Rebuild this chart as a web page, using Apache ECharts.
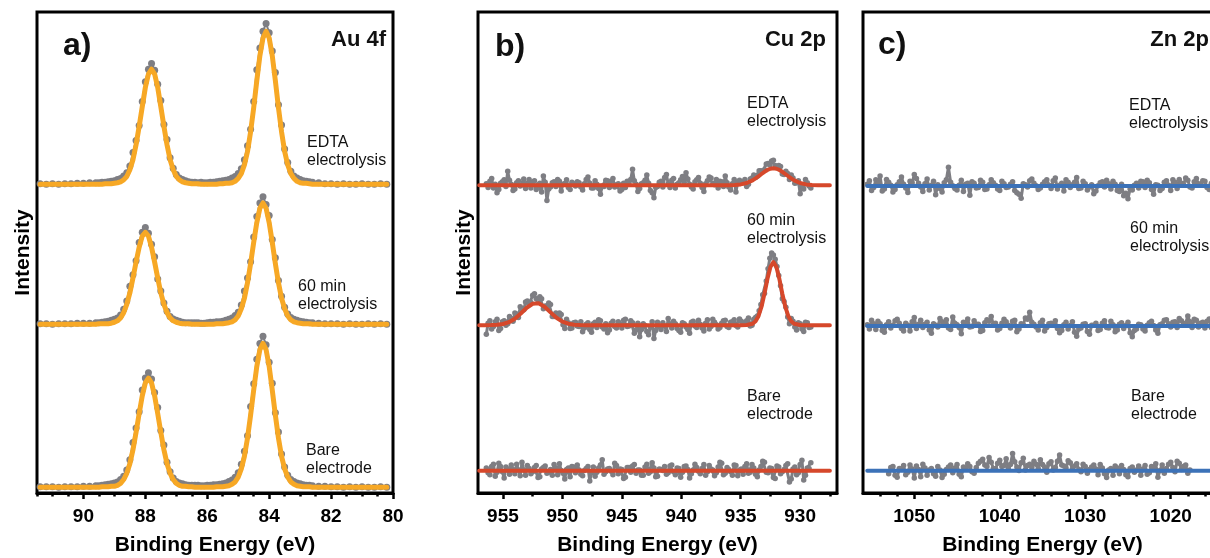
<!DOCTYPE html>
<html>
<head>
<meta charset="utf-8">
<script src="https://cdn.jsdelivr.net/npm/echarts@6/dist/echarts.min.js"></script>
<style>
  html, body { margin: 0; background: #fff; }
  #chart { width: 1210px; height: 558px; }
</style>
</head>
<body>
<div id="chart"></div>
<script>
// ---------- a) Au 4f ----------
const auX = [
  91.4, 91.2, 91.0, 90.8, 90.6, 90.4, 90.2, 90.0, 89.8, 89.6,
  89.5, 89.4, 89.3, 89.2, 89.1, 89.0, 88.9, 88.8, 88.7, 88.6,
  88.5, 88.4, 88.3, 88.2, 88.1, 88.0, 87.9, 87.8, 87.7, 87.6,
  87.5, 87.4, 87.3, 87.2, 87.1, 87.0, 86.9, 86.8, 86.7, 86.6,
  86.5, 86.4, 86.3, 86.2, 86.1, 86.0, 85.9, 85.8, 85.7, 85.6,
  85.5, 85.4, 85.3, 85.2, 85.1, 85.0, 84.9, 84.8, 84.7, 84.6,
  84.5, 84.4, 84.3, 84.2, 84.1, 84.0, 83.9, 83.8, 83.7, 83.6,
  83.5, 83.4, 83.3, 83.2, 83.1, 83.0, 82.9, 82.8, 82.7,
  82.6, 82.4, 82.2, 82.0, 81.8, 81.6, 81.4, 81.2, 81.0, 80.8, 80.6, 80.4, 80.2
];
const auEdta = [
  0.1, 0, 0.1, 0, 0.1, 0.1, 0.2, 0.2, 0.3, 0.3,
  0.3, 0.4, 0.4, 0.5, 0.6, 0.7, 1.0, 1.2, 1.7, 2.4,
  3.8, 6.6, 9.1, 12.2, 17.2, 21.3, 23.9, 25.1, 23.7, 20.8,
  17.4, 12.4, 9.3, 5.5, 3.3, 2.0, 1.3, 1.0, 0.7, 0.5,
  0.4, 0.4, 0.3, 0.4, 0.3, 0.3, 0.4, 0.4, 0.5, 0.6,
  0.7, 0.8, 1.0, 1.3, 1.6, 2.2, 3.2, 5.1, 8.0, 11.4,
  17.2, 23.8, 28.3, 31.8, 33.4, 31.5, 27.7, 23.2, 16.5, 12.3,
  7.3, 4.5, 2.7, 1.7, 1.3, 1.0, 0.7, 0.6, 0.5,
  0.4, 0.3, 0.1, 0.1, 0, 0.1, 0, 0, 0.1, 0, 0, 0.1, 0
];
const auEdtaFit = [
  0, 0, 0, 0, 0, 0, 0, 0, 0, 0,
  0, 0, 0.1, 0.1, 0.1, 0.2, 0.3, 0.5, 0.9, 1.6,
  3.0, 5.1, 8.2, 12.0, 16.1, 20.1, 22.9, 23.9, 22.9, 20.1,
  16.1, 12.0, 8.2, 5.1, 3.0, 1.6, 0.9, 0.5, 0.3, 0.2,
  0.1, 0.1, 0.1, 0, 0, 0, 0, 0, 0, 0.1,
  0.1, 0.2, 0.2, 0.3, 0.6, 1.2, 2.2, 4.0, 6.8, 10.9,
  15.9, 21.5, 26.7, 30.4, 31.8, 30.4, 26.7, 21.5, 15.9, 10.9,
  6.8, 4.0, 2.2, 1.2, 0.6, 0.3, 0.2, 0.2, 0.1,
  0, 0, 0, 0, 0, 0, 0, 0, 0, 0, 0, 0, 0
];
const au60 = [
  0.1, 0.1, 0, 0.1, 0.1, 0.1, 0.2, 0.2, 0.2, 0.3,
  0.3, 0.4, 0.5, 0.6, 0.8, 1.0, 1.3, 1.9, 3.1, 4.8,
  7.9, 10.3, 13.2, 17.0, 19.1, 20.1, 18.9, 16.6, 14.0, 9.4,
  6.9, 4.4, 2.7, 1.6, 1.1, 0.8, 0.6, 0.4, 0.3, 0.3,
  0.3, 0.3, 0.3, 0.2, 0.2, 0.3, 0.4, 0.4, 0.5, 0.5,
  0.6, 0.8, 1.0, 1.3, 1.8, 2.5, 4.0, 6.9, 9.6, 13.0,
  18.1, 22.4, 25.2, 26.5, 24.9, 22.6, 17.6, 13.8, 9.1, 5.8,
  3.5, 2.1, 1.4, 1.0, 0.8, 0.6, 0.5, 0.4, 0.3,
  0.3, 0.2, 0.1, 0.1, 0.1, 0, 0.1, 0, 0, 0.1, 0, 0.1, 0
];
const au60Fit = [
  0, 0, 0, 0, 0, 0, 0, 0, 0, 0,
  0.1, 0.1, 0.1, 0.1, 0.2, 0.4, 0.7, 1.3, 2.4, 4.1,
  6.5, 9.6, 12.9, 16.0, 18.3, 19.1, 18.3, 16.0, 12.9, 9.6,
  6.5, 4.1, 2.4, 1.3, 0.7, 0.4, 0.2, 0.1, 0.1, 0.1,
  0, 0, 0, 0, 0, 0, 0, 0, 0.1, 0.1,
  0.1, 0.2, 0.3, 0.5, 0.9, 1.7, 3.2, 5.4, 8.6, 12.6,
  17.0, 21.1, 24.1, 25.2, 24.1, 21.1, 17.0, 12.6, 8.6, 5.4,
  3.2, 1.7, 0.9, 0.5, 0.3, 0.2, 0.1, 0.1, 0.1,
  0, 0, 0, 0, 0, 0, 0, 0, 0, 0, 0, 0, 0
];
const auBare = [
  0.1, 0.1, 0.1, 0, 0.1, 0.1, 0.1, 0.2, 0.2, 0.3,
  0.3, 0.4, 0.5, 0.6, 0.7, 0.9, 1.1, 1.6, 2.3, 3.6,
  5.7, 9.3, 12.3, 15.7, 20.2, 22.7, 23.8, 22.5, 19.7, 16.6,
  11.8, 8.8, 5.2, 3.2, 1.9, 1.2, 0.9, 0.7, 0.5, 0.4,
  0.4, 0.4, 0.4, 0.3, 0.3, 0.4, 0.4, 0.5, 0.5, 0.6,
  0.7, 0.9, 1.2, 1.5, 2.1, 3.0, 4.8, 7.5, 10.7, 16.8,
  21.5, 26.6, 29.9, 31.4, 29.6, 26.0, 21.6, 15.5, 11.5, 6.9,
  4.2, 2.5, 1.6, 1.2, 0.9, 0.7, 0.5, 0.4, 0.4,
  0.3, 0.2, 0.2, 0.1, 0.1, 0, 0.1, 0, 0.1, 0, 0, 0.1, 0
];
const auBareFit = [
  0, 0, 0, 0, 0, 0, 0, 0, 0, 0,
  0, 0.1, 0.1, 0.1, 0.2, 0.2, 0.4, 0.8, 1.6, 2.9,
  4.9, 7.8, 11.4, 15.3, 19.0, 21.7, 22.7, 21.7, 19.0, 15.3,
  11.4, 7.8, 4.9, 2.9, 1.6, 0.8, 0.4, 0.2, 0.2, 0.1,
  0.1, 0, 0, 0, 0, 0, 0, 0, 0.1, 0.1,
  0.1, 0.2, 0.3, 0.6, 1.1, 2.1, 3.8, 6.4, 10.2, 15.0,
  20.2, 25.1, 28.6, 29.9, 28.6, 25.1, 20.2, 15.0, 10.2, 6.4,
  3.8, 2.1, 1.1, 0.6, 0.3, 0.2, 0.1, 0.1, 0.1,
  0, 0, 0, 0, 0, 0, 0, 0, 0, 0, 0, 0, 0
];
const auOffsets = [64.2, 35.1, 1.2]; // EDTA, 60 min, bare
const auTicks = [90, 88, 86, 84, 82, 80];
const auMinorTicks = [91.5, 91, 90.5, 89.5, 89, 88.5, 87.5, 87, 86.5, 85.5, 85, 84.5, 83.5, 83, 82.5, 81.5, 81, 80.5];

// ---------- b) Cu 2p ----------
const cuX = [
  956.4, 956.25, 956.1, 955.95, 955.8, 955.65, 955.5, 955.35, 955.2, 955.05,
  954.9, 954.75, 954.6, 954.45, 954.3, 954.15, 954.0, 953.85, 953.7, 953.55,
  953.4, 953.25, 953.1, 952.95, 952.8, 952.65, 952.5, 952.35, 952.2, 952.05,
  951.9, 951.75, 951.6, 951.45, 951.3, 951.15, 951.0, 950.85, 950.7, 950.55,
  950.4, 950.25, 950.1, 949.95, 949.8, 949.65, 949.5, 949.35, 949.2, 949.05,
  948.9, 948.75, 948.6, 948.45, 948.3, 948.15, 948.0, 947.85, 947.7, 947.55,
  947.4, 947.25, 947.1, 946.95, 946.8, 946.65, 946.5, 946.35, 946.2, 946.05,
  945.9, 945.75, 945.6, 945.45, 945.3, 945.15, 945.0, 944.85, 944.7, 944.55,
  944.4, 944.25, 944.1, 943.95, 943.8, 943.65, 943.5, 943.35, 943.2, 943.05,
  942.9, 942.75, 942.6, 942.45, 942.3, 942.15, 942.0, 941.85, 941.7, 941.55,
  941.4, 941.25, 941.1, 940.95, 940.8, 940.65, 940.5, 940.35, 940.2, 940.05,
  939.9, 939.75, 939.6, 939.45, 939.3, 939.15, 939.0, 938.85, 938.7, 938.55,
  938.4, 938.25, 938.1, 937.95, 937.8, 937.65, 937.5, 937.35, 937.2, 937.05,
  936.9, 936.75, 936.6, 936.45, 936.3, 936.15, 936.0, 935.85, 935.7, 935.55,
  935.4, 935.25, 935.1, 934.95, 934.8, 934.65, 934.5, 934.35, 934.2, 934.05,
  933.9, 933.75, 933.6, 933.45, 933.3, 933.15, 933.0, 932.85, 932.7, 932.55,
  932.4, 932.25, 932.1, 931.95, 931.8, 931.65, 931.5, 931.35, 931.2, 931.05,
  930.9, 930.75, 930.6, 930.45, 930.3, 930.15, 930.0, 929.85, 929.7, 929.55,
  929.4, 929.25, 929.1
];
const cuEdta = [
  0.3, -0.5, 0.8, 1.4, -0.6, 0.2, -1.6, -0.9, 0.4, 0.7,
  1.1, -0.3, 2.9, 1.0, 0.2, -1.1, -0.8, 0.5, 0.9, -0.2,
  0.1, 1.3, -0.7, 0.4, 1.2, -0.6, 0.6, 0.9, -0.9, 0.1,
  0.4, -1.4, 1.9, 0.6, -3.2, -0.8, -0.4, 0.5, 0.7, -0.3,
  1.2, 0.8, -1.2, 0.2, 0.3, 1.1, -0.5, -0.9, 0.6, 0.3,
  -0.2, 0.7, 0.5, -0.4, -1.0, 0.3, 1.2, 1.7, 0.4, -0.6,
  -0.6, 0.9, 0.2, -0.7, -1.9, -0.2, -0.3, 1.0, 0.9, -0.5,
  0.8, 1.4, -0.4, 0.1, 0.3, -1.2, -0.9, 0.4, -0.5, 0.8,
  0.6, 1.2, 3.3, 0.9, 0.2, -1.3, -0.7, 0.3, 0.5, 1.0,
  2.1, 0.4, -1.1, -1.6, -2.6, -0.5, -0.3, 0.6, 0.8, -0.4,
  1.6, 2.2, 0.3, -0.5, 1.0, 1.4, -0.6, 0.2, 0.5, 1.1,
  1.8, 0.6, 2.6, 1.3, 0.2, -0.4, -0.8, 0.7, 1.1, 1.6,
  0.4, -0.5, -1.3, 0.3, 0.9, 1.7, 1.5, 0.2, 0.1, 1.2,
  -0.6, 0.8, 0.7, -0.3, 1.9, 0.5, -0.4, -1.0, 0.3, 1.2,
  -1.4, 0.6, 1.0, 0.6, 0.5, 1.2, -0.3, 0.2, 1.3, 1.5,
  2.1, 1.6, 1.9, 3.0, 3.0, 2.9, 3.2, 4.4, 4.5, 4.2,
  5.0, 5.2, 4.1, 3.7, 4.1, 3.9, 2.3, 2.2, 2.9, 2.4,
  1.2, 2.1, 1.5, 0.4, 0.5, 0.9, -1.8, -0.1, -0.8, 1.2,
  0.5, -0.2, -0.6
];
const cu60 = [
  -1.9, 0.4, 0.9, -0.8, -0.3, 0.7, 1.2, -1.1, -0.7, 0.7,
  0.9, 0.0, 0.3, 1.8, 1.4, 0.8, 2.5, 2.3, 1.6, 3.8,
  3.4, 3.2, 4.8, 5.0, 4.3, 4.7, 6.2, 6.5, 5.5, 5.2,
  5.9, 5.5, 3.4, 4.0, 3.8, 4.6, 4.3, 1.8, 1.8, 2.5,
  2.1, 2.5, 2.2, 0.1, -0.7, 1.2, 0.5, -0.7, -0.6, 0.5,
  0.6, -0.2, -0.3, 0.7, -1.4, -0.6, 0.2, 0.5, -0.9, -1.5,
  0.3, 0.6, -0.5, 1.1, 0.9, -0.4, -0.8, 0.3, -1.6, -1.0,
  0.4, 0.8, -0.3, -0.6, 0.7, 0.2, -0.6, 1.0, 1.2, -0.3,
  -0.2, 0.9, 0.5, -1.7, -1.0, 0.4, -2.4, -0.9, 0.3, -0.1,
  -1.3, -2.0, -0.4, 0.7, -2.8, -1.1, 0.6, -0.4, -0.9, 0.5,
  -0.2, -1.3, 1.4, 0.2, -0.6, 0.8, 0.3, -0.7, -1.1, -1.5,
  0.5, 0.3, -0.4, -0.9, -1.7, 0.6, 0.8, -0.2, -0.5, 1.0,
  0.2, -0.6, -1.2, 0.4, 1.1, -0.8, -0.3, 1.2, 0.6, 0.1,
  -0.8, -0.5, 0.4, 0.9, 1.0, -0.3, -0.5, 0.6, 0.7, 1.1,
  -0.1, -0.4, 1.3, 0.8, 0.2, 0.5, 0.9, 1.5, -0.2, 0.0,
  1.2, 1.6, 1.9, 3.0, 4.3, 6.3, 6.6, 9.2, 11.7, 13.9,
  15.0, 14.6, 13.7, 12.2, 10.3, 8.2, 5.5, 4.9, 3.7, 1.7,
  0.3, 1.4, 0.8, -0.4, -1.0, 0.5, 0.3, -0.8, -1.3, 0.6,
  0.5, -0.5, -0.4
];
const cuBare = [
  0.6, -0.4, -0.8, 0.9, 1.4, -1.1, -0.3, 1.6, 0.9, -0.2,
  -1.5, 0.8, 0.4, -0.7, 1.2, 0.3, -0.6, 1.4, 0.2, -1.0,
  1.8, 0.2, -0.9, 1.1, 0.5, -0.6, -0.2, 0.7, 1.1, -1.4,
  -1.2, 0.4, 0.7, 1.0, -0.5, -0.3, 0.3, -0.9, 1.3, 0.6,
  -0.8, 1.5, 0.1, -0.5, -1.7, 0.3, 0.6, -1.2, 0.9, 0.8,
  -0.4, 1.2, 0.2, -0.7, -1.0, 0.1, 0.5, 0.9, -2.1, -0.4,
  0.8, -1.1, -0.3, 0.6, 1.2, 2.3, -0.7, -0.2, 0.4, 0.5,
  -0.1, -0.8, 1.6, 1.1, -0.6, 0.4, 0.3, -1.6, -1.3, 0.7,
  0.7, -0.3, 1.0, 1.3, -0.5, 0.2, 0.2, -0.9, -0.9, 0.8,
  1.4, -0.5, -0.2, 1.7, 0.6, -1.2, -1.1, 0.4, 0.3, 0.1,
  0.9, -0.7, -0.4, 1.0, 1.2, -0.2, -0.8, 0.6, 0.5, -1.3,
  -0.3, 0.9, 1.0, 0.3, -1.5, -0.6, 0.2, 1.4, 0.7, -0.1,
  -0.6, 0.5, 1.3, -0.9, -0.2, 1.1, 0.4, 0.2, -1.0, -0.4,
  0.8, 1.8, 1.6, -0.8, -0.5, 0.7, 0.3, -0.2, -0.9, 1.2,
  1.1, -1.0, 0.2, 0.4, -0.7, 0.9, 1.5, -0.5, -0.3, 1.3,
  0.6, -0.7, -1.2, 0.2, 0.9, 2.0, 1.8, -0.3, -0.4, 0.6,
  0.5, -1.4, -1.6, 1.0, 0.8, -0.6, -0.2, 0.3, 1.1, 1.5,
  -2.3, -1.7, 0.4, 0.8, -0.8, -0.4, 1.3, 2.2, -1.9, -0.9,
  0.6, 0.5, 1.7
];
const cuFitX = [
  957, 956.5, 956, 955.5, 955, 954.5, 954, 953.5, 953, 952.5,
  952, 951.5, 951, 950.5, 950, 949.5, 949, 948.5, 948, 947.5,
  947, 946.5, 946, 945.5, 945, 944.5, 944, 943.5, 943, 942.5,
  942, 941.5, 941, 940.5, 940, 939.5, 939, 938.5, 938, 937.5,
  937, 936.5, 936, 935.5, 935, 934.5, 934, 933.75, 933.5, 933.25,
  933, 932.75, 932.5, 932.25, 932, 931.75, 931.5, 931.25, 931, 930.75,
  930.5, 930, 929.5, 929, 928.5, 928, 927.5
];
const cuEdtaFit = [
  0, 0, 0, 0, 0, 0, 0, 0, 0, 0,
  0, 0, 0, 0, 0, 0, 0, 0, 0, 0,
  0, 0, 0, 0, 0, 0, 0, 0, 0, 0,
  0, 0, 0, 0, 0, 0, 0, 0, 0, 0,
  0, 0, 0, 0.05, 0.16, 0.44, 1.0, 1.4, 1.85, 2.32,
  2.78, 3.16, 3.41, 3.5, 3.41, 3.16, 2.78, 2.32, 1.85, 1.4,
  1.0, 0.44, 0.16, 0.05, 0, 0, 0
];
const cu60Fit = [
  0, 0, 0.02, 0.07, 0.23, 0.62, 1.34, 2.42, 3.61, 4.44,
  4.53, 3.82, 2.66, 1.53, 0.73, 0.29, 0.09, 0.03, 0, 0,
  0, 0, 0, 0, 0, 0, 0, 0, 0, 0,
  0, 0, 0, 0, 0, 0, 0, 0, 0, 0,
  0, 0, 0, 0, 0, 0.03, 0.30, 0.82, 1.91, 3.82,
  6.55, 9.63, 12.1, 13.1, 12.1, 9.63, 6.55, 3.82, 1.91, 0.82,
  0.30, 0.03, 0, 0, 0, 0, 0
];
const cuBareFitX = [957, 927.5];
const cuBareFit = [0, 0];
const cuOffsets = [64.0, 34.9, 4.6];
const cuTicks = [955, 950, 945, 940, 935, 930];
const cuMinorTicks = [952.5, 947.5, 942.5, 937.5, 932.5, 927.5];

// ---------- c) Zn 2p ----------
const znX = [
  1055.5, 1055.25, 1055, 1054.75, 1054.5, 1054.25, 1054, 1053.75, 1053.5, 1053.25,
  1053, 1052.75, 1052.5, 1052.25, 1052, 1051.75, 1051.5, 1051.25, 1051, 1050.75,
  1050.5, 1050.25, 1050, 1049.75, 1049.5, 1049.25, 1049, 1048.75, 1048.5, 1048.25,
  1048, 1047.75, 1047.5, 1047.25, 1047, 1046.75, 1046.5, 1046.25, 1046, 1045.75,
  1045.5, 1045.25, 1045, 1044.75, 1044.5, 1044.25, 1044, 1043.75, 1043.5, 1043.25,
  1043, 1042.75, 1042.5, 1042.25, 1042, 1041.75, 1041.5, 1041.25, 1041, 1040.75,
  1040.5, 1040.25, 1040, 1039.75, 1039.5, 1039.25, 1039, 1038.75, 1038.5, 1038.25,
  1038, 1037.75, 1037.5, 1037.25, 1037, 1036.75, 1036.5, 1036.25, 1036, 1035.75,
  1035.5, 1035.25, 1035, 1034.75, 1034.5, 1034.25, 1034, 1033.75, 1033.5, 1033.25,
  1033, 1032.75, 1032.5, 1032.25, 1032, 1031.75, 1031.5, 1031.25, 1031, 1030.75,
  1030.5, 1030.25, 1030, 1029.75, 1029.5, 1029.25, 1029, 1028.75, 1028.5, 1028.25,
  1028, 1027.75, 1027.5, 1027.25, 1027, 1026.75, 1026.5, 1026.25, 1026, 1025.75,
  1025.5, 1025.25, 1025, 1024.75, 1024.5, 1024.25, 1024, 1023.75, 1023.5, 1023.25,
  1023, 1022.75, 1022.5, 1022.25, 1022, 1021.75, 1021.5, 1021.25, 1021, 1020.75,
  1020.5, 1020.25, 1020, 1019.75, 1019.5, 1019.25, 1019, 1018.75, 1018.5, 1018.25,
  1018, 1017.75, 1017.5, 1017.25, 1017, 1016.75, 1016.5, 1016.25, 1016, 1015.75,
  1015.5, 1015.25, 1015
];
const znEdta = [
  0.4, 1.1, -0.9, -0.3, 1.3, 0.6, 2.1, -1.0, -0.6, 1.4,
  0.8, 0.2, -1.2, -0.7, 0.3, 0.9, 1.9, 0.4, -0.4, -1.3,
  1.0, 0.7, 2.4, 1.6, 0.6, -0.2, -1.1, 0.5, 1.5, -0.8,
  0.2, 1.0, -1.8, 0.3, -0.5, -1.2, 0.7, 1.3, 3.9, 0.8,
  0.1, -0.5, -0.8, 0.2, 1.2, -1.1, 0.4, 0.6, -1.9, 0.9,
  0.6, -0.4, -0.3, 1.2, 0.8, -0.7, -0.6, 0.3, 1.3, 0.7,
  0.2, -0.6, -0.9, 1.0, 0.5, -0.3, -0.2, 0.4, 0.9, -0.9,
  -1.4, -1.7, -2.5, 0.5, 0.3, -0.2, 1.1, 1.5, 0.6, 0.1,
  -0.7, -0.4, 0.4, 0.9, 1.3, 0.2, -0.5, 1.1, 1.7, -0.6,
  0.2, 0.6, -1.0, 1.3, 0.8, -0.3, 0.3, 0.8, 1.8, -0.5,
  -0.4, 1.0, 0.5, -0.8, -0.2, 0.3, -1.6, -1.0, 0.1, 0.7,
  0.9, -0.2, 1.2, 0.5, -0.6, 1.0, 0.4, -0.9, -1.1, 0.4,
  -2.0, -1.5, -2.6, -0.6, -0.8, 0.2, 0.6, -0.4, 1.0, 0.9,
  -0.3, 1.2, 0.7, -0.7, -1.7, 0.3, 0.2, -0.9, -0.5, 0.8,
  1.1, 0.2, -0.9, 1.3, 0.8, -0.5, 1.4, 0.6, 0.3, 1.7,
  1.2, -0.2, -0.4, 0.9, 1.6, 0.4, 0.5, 1.1, 1.0, -0.3,
  -0.7, 0.6, 0.9
];
const zn60 = [
  0.3, -0.6, 1.2, 0.5, -0.7, 1.0, 0.5, -0.9, -1.3, 0.3,
  0.9, -0.4, 0.2, 1.1, 1.4, 0.6, -0.5, -1.0, 0.6, 0.2,
  -1.0, 0.9, 1.8, -0.5, 0.4, 1.2, -0.3, 0.4, 0.8, -0.8,
  -1.5, 0.5, 0.2, -0.2, 1.6, 0.9, 0.5, 1.3, -0.4, -0.7,
  1.9, 0.6, 0.3, -0.3, -1.6, 0.8, 0.7, 1.5, -0.2, -0.1,
  1.1, 0.4, 0.4, -1.1, -0.9, 0.7, 1.3, 1.0, 2.0, 0.3,
  0.6, -0.8, -0.5, 0.6, 1.4, 0.9, 0.2, -0.4, 1.0, 1.2,
  -1.2, -0.6, 0.5, 0.3, 1.7, 1.4, 2.9, 0.8, 0.4, -0.2,
  -0.8, 0.7, 1.2, -1.0, -0.3, 0.5, 0.6, 0.2, 1.1, -0.5,
  -1.4, -0.9, 0.3, 0.8, -0.6, 0.1, 0.9, -1.3, -2.1, -0.6,
  -0.4, 0.4, 0.5, -1.1, -1.7, 0.2, 0.2, 0.6, -0.9, -0.7,
  0.6, 1.1, -0.3, -0.4, 1.0, 0.3, -1.2, -0.8, 0.4, 0.7,
  -0.5, 0.1, 0.8, -1.4, -2.2, -0.9, -0.6, 0.4, 0.3, -0.6,
  -1.0, 0.2, 0.7, 1.0, 0.1, -0.8, -1.5, 0.3, 0.5, 1.2,
  1.3, 0.5, -0.2, 0.8, 0.9, -0.3, 1.6, 1.1, 0.4, 0.6,
  2.1, 0.9, -0.3, 1.4, 1.2, -0.2, 0.6, 0.8, -0.4, 1.0,
  1.5, -0.3, 0.2
];
const znBare = [
  null, null, null, null, null, null, null, null, null, null,
  -0.6, 0.7, 0.9, -0.9, -1.3, 0.5, 0.4, 1.1, -0.8, -0.3,
  1.2, 0.4, -1.5, 1.0, 0.3, -1.2, 1.4, 0.6, -0.9, 0.2,
  0.5, -0.6, -1.1, 0.9, 0.2, -1.4, -0.7, 0.3, 0.8, 1.2,
  -0.4, 0.6, 1.3, -0.7, -1.2, 0.8, 0.4, 1.5, 0.9, -0.2,
  -0.5, 0.7, 1.6, 2.0, 2.4, 1.2, 0.9, 2.8, 1.8, 0.5,
  0.4, 1.6, 2.2, 0.9, 1.1, 2.5, 0.6, 1.3, 3.6, 1.9,
  0.8, 0.1, 1.7, 2.6, 0.2, 1.1, 1.4, 0.7, 2.0, 1.4,
  0.5, 2.3, 1.3, 0.8, -0.3, 1.5, 1.9, 0.2, 0.7, 2.0,
  3.3, 1.2, 1.0, 0.6, 2.1, 1.7, 0.4, 1.0, 1.5, 0.3,
  -0.2, 1.4, 0.9, -0.5, 0.3, 0.8, 1.2, 0.4, -0.8, 1.3,
  0.6, -0.6, -1.4, 0.2, 0.5, -0.9, 1.0, 0.6, -0.6, 1.1,
  0.3, -0.8, -1.2, 0.5, 0.8, -0.3, 0.2, 1.0, -0.9, 0.4,
  1.1, -0.7, -0.4, 0.9, 0.7, 1.5, -1.3, 0.1, 1.2, -0.5,
  0.5, 1.4, 1.8, 0.7, -0.2, 2.0, 1.6, 0.3, 0.9, 1.2,
  -0.5, 0.2, null, null, null, null, null, null, null, null,
  null, null, null
];
const znFitX = [1055.5, 1014];
const znFit = [0, 0];
const znOffsets = [63.8, 34.7, 4.6];
const znTicks = [1050, 1040, 1030, 1020];
const znMinorTicks = [1054, 1052, 1048, 1046, 1044, 1042, 1038, 1036, 1034, 1032, 1028, 1026, 1024, 1022, 1018, 1016];

const sampleNames = ['EDTA\nelectrolysis', '60 min\nelectrolysis', 'Bare\nelectrode'];

// ---------- chart ----------
const FONT = '"Liberation Sans", Arial, Helvetica, sans-serif';
const GRAY = '#7e7e83';

function pairs(xs, ys, off) {
  return xs.map((x, i) => [x, ys[i] == null ? '-' : +(ys[i] + off).toFixed(2)]);
}

// axis = index of the main x axis of the panel (0, 2, 4); its y axis is axis / 2
function raw(axis, xs, ys, off, size, width) {
  return {
    type: 'line', xAxisIndex: axis, yAxisIndex: axis / 2, z: 2,
    data: pairs(xs, ys, off),
    symbol: 'circle', symbolSize: size, showSymbol: true,
    itemStyle: { color: GRAY },
    lineStyle: { color: GRAY, width: width },
    silent: true
  };
}

function fit(axis, xs, ys, off, color, width) {
  return {
    type: 'line', xAxisIndex: axis, yAxisIndex: axis / 2, z: 3,
    data: pairs(xs, ys, off),
    symbol: 'none',
    lineStyle: { color: color, width: width, cap: 'round', join: 'round' },
    silent: true
  };
}

function xAxes(grid, min, max, major, minor) {
  return [
    {
      type: 'value', gridIndex: grid, min: min, max: max, inverse: true, position: 'bottom',
      axisLine: { show: true, onZero: false, lineStyle: { color: '#000', width: 3 } },
      axisTick: { show: true, length: 6, customValues: major, lineStyle: { color: '#000', width: 2.5 } },
      axisLabel: {
        show: true, customValues: major, margin: 14, showMinLabel: true, showMaxLabel: true,
        formatter: v => String(v),
        color: '#000', fontSize: 19, fontWeight: 'bold', fontFamily: FONT
      },
      splitLine: { show: false },
      name: 'Binding Energy (eV)', nameLocation: 'middle', nameGap: 42,
      nameTextStyle: { color: '#000', fontSize: 21, fontWeight: 'bold', fontFamily: FONT }
    },
    {
      type: 'value', gridIndex: grid, min: min, max: max, inverse: true, position: 'bottom',
      axisLine: { show: false, onZero: false },
      axisTick: { show: true, length: 3.5, customValues: minor, lineStyle: { color: '#000', width: 2.5 } },
      axisLabel: { show: false },
      splitLine: { show: false }
    }
  ];
}

function yAxis(grid, name) {
  return {
    type: 'value', gridIndex: grid, min: 0, max: 100,
    axisLine: { show: false }, axisTick: { show: false }, axisLabel: { show: false },
    splitLine: { show: false },
    name: name, nameLocation: 'middle', nameRotate: 90, nameGap: 3,
    nameTextStyle: { color: '#000', fontSize: 21, fontWeight: 'bold', fontFamily: FONT }
  };
}

const gridBase = { top: 12, height: 481, show: true, borderColor: '#000', borderWidth: 3, outerBoundsMode: 'none', containLabel: false };

function txt(x, y, text, font, align, vAlign, lh) {
  const style = {
    text: text, font: font, fill: '#111',
    textAlign: align, align: align,
    textVerticalAlign: vAlign, verticalAlign: vAlign
  };
  if (lh) style.lineHeight = lh;
  return { type: 'text', x: x, y: y, z: 10, silent: true, style: style };
}

const big = 'bold 32px ' + FONT;
const head = 'bold 22px ' + FONT;
const small = '16px ' + FONT;

const option = {
  animation: false,
  backgroundColor: '#fff',
  grid: [
    Object.assign({ left: 37, width: 356 }, gridBase),
    Object.assign({ left: 478, width: 359 }, gridBase),
    Object.assign({ left: 863, width: 359 }, gridBase)
  ],
  xAxis: [].concat(
    xAxes(0, 80, 91.5, auTicks, auMinorTicks),
    xAxes(1, 926.9, 957.1, cuTicks, cuMinorTicks),
    xAxes(2, 1014, 1056, znTicks, znMinorTicks)
  ),
  yAxis: [
    yAxis(0, 'Intensity'),
    yAxis(1, 'Intensity'),
    yAxis(2, '')
  ],
  series: [
    raw(0, auX, auEdta, auOffsets[0], 7, 2),
    raw(0, auX, au60, auOffsets[1], 7, 2),
    raw(0, auX, auBare, auOffsets[2], 7, 2),
    fit(0, auX, auEdtaFit, auOffsets[0], '#f7a825', 5),
    fit(0, auX, au60Fit, auOffsets[1], '#f7a825', 5),
    fit(0, auX, auBareFit, auOffsets[2], '#f7a825', 5),

    raw(2, cuX, cuEdta, cuOffsets[0], 5.5, 3),
    raw(2, cuX, cu60, cuOffsets[1], 5.5, 3),
    raw(2, cuX, cuBare, cuOffsets[2], 5.5, 3),
    fit(2, cuFitX, cuEdtaFit, cuOffsets[0], '#d6482b', 4),
    fit(2, cuFitX, cu60Fit, cuOffsets[1], '#d6482b', 4),
    fit(2, cuBareFitX, cuBareFit, cuOffsets[2], '#d6482b', 4),

    raw(4, znX, znEdta, znOffsets[0], 5.5, 3),
    raw(4, znX, zn60, znOffsets[1], 5.5, 3),
    raw(4, znX, znBare, znOffsets[2], 5.5, 3),
    fit(4, znFitX, znFit, znOffsets[0], '#3c72b8', 4),
    fit(4, znFitX, znFit, znOffsets[1], '#3c72b8', 4),
    fit(4, znFitX, znFit, znOffsets[2], '#3c72b8', 4)
  ],
  graphic: [
    txt(63, 46, 'a)', big, 'left', 'middle'),
    txt(386, 40, 'Au 4f', head, 'right', 'middle'),
    txt(307, 134, sampleNames[0], small, 'left', 'top', 18),
    txt(298, 278, sampleNames[1], small, 'left', 'top', 18),
    txt(306, 442, sampleNames[2], small, 'left', 'top', 18),

    txt(495, 47, 'b)', big, 'left', 'middle'),
    txt(826, 40, 'Cu 2p', head, 'right', 'middle'),
    txt(747, 95, sampleNames[0], small, 'left', 'top', 18),
    txt(747, 212, sampleNames[1], small, 'left', 'top', 18),
    txt(747, 388, sampleNames[2], small, 'left', 'top', 18),

    txt(878, 45, 'c)', big, 'left', 'middle'),
    txt(1209, 40, 'Zn 2p', head, 'right', 'middle'),
    txt(1129, 97, sampleNames[0], small, 'left', 'top', 18),
    txt(1130, 220, sampleNames[1], small, 'left', 'top', 18),
    txt(1131, 388, sampleNames[2], small, 'left', 'top', 18)
  ]
};

const chart = echarts.init(document.getElementById('chart'));
chart.setOption(option);
</script>
</body>
</html>
